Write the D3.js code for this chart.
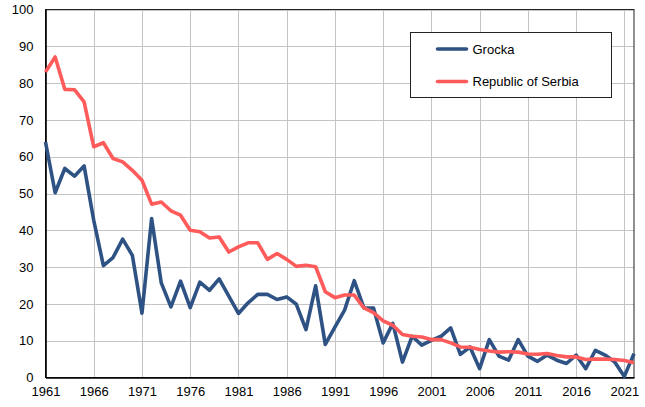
<!DOCTYPE html>
<html>
<head>
<meta charset="utf-8">
<script src="https://cdn.jsdelivr.net/npm/d3@7"></script>
<style>
  body { margin: 0; background: #fff; }
  svg { display: block; font-family: "Liberation Sans", Arial, sans-serif; }
</style>
</head>
<body>
<div id="chart"></div>
<script>
const years = d3.range(1961, 2023)

const grocka = [
  64.0, 50.2, 56.8, 54.7, 57.5, 42.7, 30.4, 32.6, 37.6, 33.2,
  17.5, 43.2, 25.7, 19.2, 26.2, 19.0, 25.9, 23.7, 26.8, 22.1,
  17.4, 20.3, 22.6, 22.6, 21.2, 21.9, 19.9, 13.0, 24.9, 9.0,
  13.7, 18.3, 26.3, 18.9, 18.9, 9.4, 14.7, 4.2, 11.2, 8.8,
  10.1, 11.2, 13.5, 6.3, 8.3, 2.4, 10.3, 5.8, 4.7, 10.3,
  5.8, 4.4, 6.1, 4.7, 3.8, 6.1, 2.4, 7.4, 6.1, 4.2,
  0.3, 6.5
]

const serbia = [
  83.0, 87.1, 78.3, 78.2, 74.9, 62.7, 63.8, 59.5, 58.6, 56.3,
  53.6, 47.1, 47.7, 45.3, 44.1, 40.0, 39.6, 37.9, 38.2, 34.1,
  35.5, 36.6, 36.6, 32.1, 33.7, 32.1, 30.2, 30.5, 30.1, 23.3,
  21.7, 22.4, 22.4, 18.9, 17.6, 15.4, 14.2, 11.7, 11.2, 11.0,
  10.3, 10.3, 9.4, 8.3, 8.2, 7.6, 7.2, 6.9, 7.0, 6.9,
  6.4, 6.3, 6.5, 6.0, 5.6, 5.6, 4.9, 5.0, 5.0, 4.9,
  4.6, 4.0
]

const xTicks = d3.range(1961, 2022, 5)
const yTicks = d3.range(0, 101, 10)

const seriesNames = ['Grocka', 'Republic of Serbia']
const seriesColours = ['#2e5283', '#ff5b5b']

window.onload = function() {
  let w = 645,
    h = 407,
    margin = {top: 9.5, right: 11, bottom: 29.5, left: 45.5}

  let xScale = d3.scaleLinear()
      .domain([1961, 2022])
      .range([margin.left, w - margin.right])

  let yScale = d3.scaleLinear()
      .domain([0, 100])
      .range([h - margin.bottom, margin.top])

  const svg = d3.select("#chart").append("svg")
      .attr("width", w)
      .attr("height", h)

  // grid
  svg.append("g")
      .selectAll("line")
      .data(yTicks.slice(1))
      .enter().append("line")
        .attr("x1", margin.left)
        .attr("x2", w - margin.right)
        .attr("y1", d => Math.round(yScale(d)) + 0.5)
        .attr("y2", d => Math.round(yScale(d)) + 0.5)
        .attr("stroke", "#c4c4c4")
        .attr("stroke-width", 1)

  svg.append("g")
      .selectAll("line")
      .data(xTicks.slice(1))
      .enter().append("line")
        .attr("x1", d => Math.round(xScale(d)) + 0.5)
        .attr("x2", d => Math.round(xScale(d)) + 0.5)
        .attr("y1", margin.top)
        .attr("y2", h - margin.bottom)
        .attr("stroke", "#c4c4c4")
        .attr("stroke-width", 1)

  // frame
  svg.append("rect")
      .attr("x", margin.left)
      .attr("y", margin.top)
      .attr("width", w - margin.left - margin.right)
      .attr("height", h - margin.top - margin.bottom)
      .attr("fill", "none")
      .attr("stroke", "#222")
      .attr("stroke-width", 1)

  // axes
  let xAxis = svg.append("g")
      .attr("transform", "translate(0," + (h - margin.bottom) + ")")
      .call(d3.axisBottom(xScale).tickValues(xTicks).tickFormat(d3.format("d")).tickSize(0).tickPadding(9))
  xAxis.select(".domain").attr("stroke", "#000").attr("stroke-width", 1.6)
  xAxis.selectAll("text").attr("font-size", 13).attr("fill", "#000")

  let yAxis = svg.append("g")
      .attr("transform", "translate(" + margin.left + ",0)")
      .call(d3.axisLeft(yScale).tickValues(yTicks).tickSize(0).tickPadding(12))
  yAxis.select(".domain").attr("stroke", "#000").attr("stroke-width", 1.6)
  yAxis.selectAll("text").attr("font-size", 13).attr("fill", "#000")

  // lines
  let line = d3.line()
      .x((d, i) => xScale(years[i]))
      .y(d => yScale(d))

  ;[grocka, serbia].forEach(function(values, i) {
    svg.append("path")
        .datum(values)
        .attr("fill", "none")
        .attr("stroke", seriesColours[i])
        .attr("stroke-width", 3.6)
        .attr("stroke-linejoin", "round")
        .attr("d", line)
  })

  // legend
  const legend = svg.append("g")
      .attr("transform", "translate(410.5,32.5)")

  legend.append("rect")
      .attr("width", 201)
      .attr("height", 65)
      .attr("fill", "#fff")
      .attr("stroke", "#222")
      .attr("stroke-width", 1)

  seriesNames.forEach(function(name, i) {
    let yPos = 16.5 + i * 32.5
    legend.append("line")
        .attr("x1", 27)
        .attr("x2", 56)
        .attr("y1", yPos)
        .attr("y2", yPos)
        .attr("stroke", seriesColours[i])
        .attr("stroke-width", 3.6)
        .attr("stroke-linecap", "round")
    legend.append("text")
        .attr("x", 62)
        .attr("y", yPos + 4.5)
        .attr("font-size", 13)
        .text(name)
  })
}
</script>
</body>
</html>
